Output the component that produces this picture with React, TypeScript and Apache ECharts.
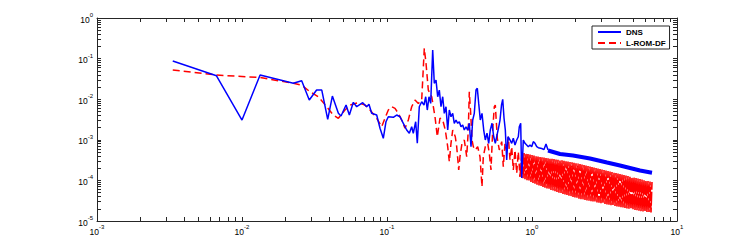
import { useEffect, useRef } from "react";
import * as echarts from "echarts";

// Axis decades (tick labels) for the log-log plot
const xDecades = [0.001, 0.01, 0.1, 1, 10];
const yDecades = [1e-5, 1e-4, 1e-3, 1e-2, 1e-1, 1];

// DNS spectrum (frequency, energy)
const dnsX = [
  0.00333, 0.00667, 0.01, 0.01333, 0.0226, 0.0258, 0.0291, 0.0327, 0.0355, 0.039,
  0.042, 0.0462, 0.0482, 0.0522, 0.055, 0.0586, 0.0618, 0.068, 0.0724, 0.0751,
  0.0784, 0.0849, 0.0895, 0.0943, 0.0984, 0.1021, 0.1105, 0.1166, 0.1229, 0.1296,
  0.1367, 0.1425, 0.148, 0.1518, 0.1577, 0.1618, 0.167, 0.1735, 0.18, 0.1849,
  0.1896, 0.1948, 0.2001, 0.2066, 0.2119, 0.2178, 0.2237, 0.2295, 0.2357, 0.2422,
  0.2484, 0.2552, 0.2622, 0.269, 0.2763, 0.2839, 0.2911, 0.2991, 0.3073, 0.3152,
  0.3238, 0.3327, 0.3413, 0.3506, 0.3602, 0.3695, 0.3796, 0.39, 0.4, 0.411,
  0.4196, 0.429, 0.44, 0.452, 0.4645, 0.4764, 0.4894, 0.5028, 0.5157, 0.53,
  0.5445, 0.5584, 0.5737, 0.5875, 0.6017, 0.6162, 0.6281, 0.6412, 0.6546, 0.6692,
  0.6832, 0.7053, 0.7244, 0.7431, 0.7634, 0.7843, 0.8044, 0.8173, 0.8357, 0.8492,
  0.871, 0.8948, 0.9192, 0.943, 0.969, 0.995, 1.021, 1.049, 1.078, 1.105,
  1.167, 1.21, 1.249, 1.29,
];
const dnsY = [
  0.087, 0.0378, 0.00307, 0.0394, 0.0246, 0.0285, 0.00954, 0.0168, 0.0168, 0.0032,
  0.01197, 0.00449, 0.00385, 0.00719, 0.00408, 0.00837, 0.00653, 0.00818, 0.00653, 0.00748,
  0.00449, 0.00408, 0.00192, 0.00109, 0.00279, 0.0037, 0.00358, 0.00408, 0.0037, 0.00255,
  0.00174, 0.00145, 0.0021, 0.00145, 0.00279, 0.00082, 0.00653, 0.00867, 0.00719, 0.0115,
  0.00541, 0.0115, 0.00787, 0.163, 0.0246, 0.0296, 0.0115, 0.0168, 0.00653, 0.0115,
  0.00449, 0.00653, 0.00174, 0.00541, 0.0037, 0.00449, 0.00255, 0.00307, 0.00255, 0.00279,
  0.0021, 0.00231, 0.00174, 0.0021, 0.00174, 0.00255, 0.000676, 0.00307, 0.00449, 0.0168,
  0.0186, 0.00787, 0.00307, 0.00449, 0.00174, 0.000989, 0.00145, 0.00082, 0.00174, 0.00255,
  0.00119, 0.00082, 0.00131, 0.00195, 0.00307, 0.00719, 0.00994, 0.00344, 0.00174, 0.000318,
  0.00119, 0.000989, 0.00082, 0.00109, 0.000745, 0.000989, 0.00119, 0.0021, 0.00255, 0.000115,
  0.000989, 0.00082, 0.000745, 0.000676, 0.000745, 0.000676, 0.0009, 0.00082, 0.000676, 0.00064,
  0.00061, 0.000575, 0.000788, 0.000561,
];
// DNS high-frequency tail (dense band, drawn thick)
const dnsTailX = [1.29, 1.56, 1.918, 2.512, 3.29, 4.044, 5.556, 6.723];
const dnsTailY = [0.000545, 0.000447, 0.00041, 0.000346, 0.000275, 0.000233, 0.000175, 0.000155];

// L-ROM-DF spectrum
const romX = [
  0.00333, 0.00667, 0.01333, 0.0226, 0.0258, 0.0294, 0.0336, 0.0384, 0.0426, 0.0462,
  0.0513, 0.0556, 0.0634, 0.0705, 0.0764, 0.0849, 0.0919, 0.0969, 0.1021, 0.1078,
  0.1136, 0.1197, 0.1263, 0.1331, 0.1403, 0.148, 0.156, 0.1644, 0.1735, 0.1808,
  0.1858, 0.1927, 0.2034, 0.2143, 0.2223, 0.232, 0.2422, 0.2524, 0.2622, 0.269,
  0.2763, 0.2839, 0.2958, 0.3025, 0.3123, 0.3187, 0.329, 0.3413, 0.3545, 0.3636,
  0.3695, 0.3778, 0.3857, 0.3938, 0.4064, 0.4222, 0.4379, 0.452, 0.4615, 0.4764,
  0.4949, 0.5076, 0.5214, 0.5358, 0.5495, 0.5584, 0.5764, 0.595, 0.6182, 0.634,
  0.6513, 0.6692, 0.6866, 0.7053, 0.7244, 0.7431, 0.7634, 0.7843, 0.8044, 0.8264,
];
const romY = [
  0.0522, 0.0394, 0.0342, 0.0246, 0.0223, 0.0153, 0.0115, 0.00653, 0.00408, 0.00338,
  0.00541, 0.00719, 0.00818, 0.00719, 0.00541, 0.00338, 0.0021, 0.00344, 0.00541, 0.00653,
  0.00592, 0.00449, 0.00307, 0.00192, 0.00307, 0.00653, 0.00954, 0.00787, 0.00954, 0.179,
  0.0766, 0.0168, 0.0115, 0.0037, 0.00119, 0.00344, 0.00307, 0.00174, 0.000676, 0.00029,
  0.00082, 0.00174, 0.00119, 0.000676, 0.00018, 0.000383, 0.00082, 0.000989, 0.000383, 0.00174,
  0.0153, 0.00449, 0.000989, 0.000676, 0.000561, 0.000676, 0.000383, 0.0000696, 0.000383, 0.000676,
  0.00082, 0.000465, 0.00018, 0.00174, 0.00653, 0.00719, 0.00109, 0.000561, 0.0009, 0.000217,
  0.00082, 0.000561, 0.00119, 0.000318, 0.000676, 0.00018, 0.000561, 0.00015, 0.00051, 0.000123,
];
// L-ROM-DF high-frequency oscillation: peaks (at peakX) and troughs (at troughX)
const romPeakX = [
  0.853, 0.881, 0.909, 0.938, 0.969, 1.0, 1.032, 1.066, 1.1, 1.136,
  1.172, 1.21, 1.249, 1.289, 1.331, 1.374, 1.418, 1.464, 1.511, 1.56,
  1.61, 1.662, 1.716, 1.771, 1.829, 1.888, 1.948, 2.011, 2.076, 2.143,
  2.212, 2.284, 2.357, 2.434, 2.512, 2.593, 2.677, 2.763, 2.852, 2.944,
  3.039, 3.137, 3.238, 3.343, 3.451, 3.562, 3.677, 3.795, 3.918, 4.044,
  4.175, 4.309, 4.448, 4.592, 4.74, 4.893, 5.051, 5.214, 5.382, 5.556,
  5.735, 5.92, 6.111, 6.31, 6.513, 6.723,
];
const romPeakY = [
  4.87e-4, 4.73e-4, 4.6e-4, 4.47e-4, 4.35e-4, 4.22e-4, 4.1e-4, 3.99e-4, 3.88e-4, 3.77e-4,
  3.7e-4, 3.64e-4, 3.58e-4, 3.52e-4, 3.46e-4, 3.4e-4, 3.34e-4, 3.29e-4, 3.24e-4, 3.18e-4,
  3.11e-4, 3.04e-4, 2.97e-4, 2.9e-4, 2.84e-4, 2.78e-4, 2.71e-4, 2.65e-4, 2.59e-4, 2.54e-4,
  2.47e-4, 2.4e-4, 2.33e-4, 2.26e-4, 2.2e-4, 2.14e-4, 2.08e-4, 2.02e-4, 1.96e-4, 1.91e-4,
  1.85e-4, 1.8e-4, 1.75e-4, 1.7e-4, 1.65e-4, 1.61e-4, 1.56e-4, 1.52e-4, 1.48e-4, 1.44e-4,
  1.4e-4, 1.36e-4, 1.32e-4, 1.28e-4, 1.25e-4, 1.21e-4, 1.18e-4, 1.15e-4, 1.11e-4, 1.08e-4,
  1.05e-4, 1.02e-4, 9.94e-5, 9.67e-5, 9.4e-5, 9.13e-5,
];
const romTroughX = [
  0.867, 0.895, 0.924, 0.953, 0.984, 1.016, 1.049, 1.083, 1.118, 1.154,
  1.191, 1.229, 1.269, 1.31, 1.352, 1.396, 1.441, 1.487, 1.535, 1.585,
  1.636, 1.689, 1.743, 1.799, 1.858, 1.918, 1.979, 2.043, 2.109, 2.177,
  2.247, 2.32, 2.395, 2.472, 2.552, 2.634, 2.719, 2.807, 2.897, 2.991,
  3.087, 3.187, 3.29, 3.396, 3.506, 3.619, 3.736, 3.856, 3.981, 4.109,
  4.242, 4.378, 4.519, 4.665, 4.816, 4.971, 5.132, 5.297, 5.468, 5.645,
  5.827, 6.015, 6.209, 6.411, 6.617,
];
const romTroughY = [
  1.124e-4, 1.068e-4, 1.014e-4, 9.64e-5, 9.16e-5, 8.7e-5, 8.27e-5, 7.85e-5, 7.47e-5, 7.14e-5,
  6.86e-5, 6.59e-5, 6.34e-5, 6.09e-5, 5.85e-5, 5.62e-5, 5.4e-5, 5.19e-5, 4.99e-5, 4.81e-5,
  4.65e-5, 4.49e-5, 4.35e-5, 4.2e-5, 4.06e-5, 3.92e-5, 3.79e-5, 3.67e-5, 3.54e-5, 3.44e-5,
  3.37e-5, 3.29e-5, 3.22e-5, 3.15e-5, 3.07e-5, 3.01e-5, 2.94e-5, 2.87e-5, 2.81e-5, 2.75e-5,
  2.68e-5, 2.62e-5, 2.56e-5, 2.51e-5, 2.45e-5, 2.39e-5, 2.34e-5, 2.29e-5, 2.24e-5, 2.19e-5,
  2.14e-5, 2.09e-5, 2.04e-5, 2.0e-5, 1.96e-5, 1.91e-5, 1.87e-5, 1.83e-5, 1.78e-5, 1.75e-5,
  1.72e-5, 1.7e-5, 1.68e-5, 1.66e-5, 1.63e-5,
];

const FONT = "'Liberation Sans', Arial, Helvetica, sans-serif";
const AXIS_COLOR = "#262626";

function withMinors(decades: number[]): number[] {
  const out: number[] = [];
  for (let i = 0; i < decades.length; i++) {
    out.push(decades[i]);
    if (i < decades.length - 1) {
      for (let m = 2; m <= 9; m++) out.push(Number((decades[i] * m).toPrecision(3)));
    }
  }
  return out;
}

function zip(xs: number[], ys: number[]): number[][] {
  return xs.map((x, i) => [x, ys[i]]);
}

// interleave peaks and troughs into one oscillating polyline
function interleave(px: number[], py: number[], tx: number[], ty: number[]): number[][] {
  const out: number[][] = [];
  for (let i = 0; i < px.length; i++) {
    out.push([px[i], py[i]]);
    if (i < tx.length) out.push([tx[i], ty[i]]);
  }
  return out;
}

const powLabel = (v: number) => `{b|10}{s|${Math.round(Math.log10(v))}}`;

const richStyle = {
  b: { fontSize: 8.5, fontFamily: FONT, color: "#000", lineHeight: 12, verticalAlign: "bottom" },
  s: { fontSize: 6, fontFamily: FONT, color: "#000", lineHeight: 12, verticalAlign: "top" },
};

function makeAxis(dir: "x" | "y", position: string, decades: number[], showLabel: boolean) {
  return {
    type: "log",
    logBase: 10,
    position,
    min: decades[0],
    max: decades[decades.length - 1],
    axisLine: { show: true, onZero: false, lineStyle: { color: AXIS_COLOR, width: 1 } },
    axisTick: {
      show: true,
      inside: true,
      length: 4,
      customValues: withMinors(decades),
      lineStyle: { color: AXIS_COLOR, width: 1 },
    },
    minorTick: { show: false },
    splitLine: { show: false },
    axisLabel: {
      show: showLabel,
      customValues: decades,
      formatter: powLabel,
      margin: dir === "x" ? 3 : 4,
      rich: richStyle,
    },
  };
}

export default function App() {
  const ref = useRef<HTMLDivElement>(null);
  useEffect(() => {
    if (!ref.current) return;
    const chart = echarts.init(ref.current, undefined, { renderer: "svg" });
    const romMain = zip(romX, romY);
    const romBand = [romMain[romMain.length - 1]].concat(
      interleave(romPeakX, romPeakY, romTroughX, romTroughY)
    );
    chart.setOption({
      animation: false,
      backgroundColor: "#ffffff",
      grid: { left: 97, top: 18, width: 580, height: 203, containLabel: false },
      xAxis: [makeAxis("x", "bottom", xDecades, true), makeAxis("x", "top", xDecades, false)],
      yAxis: [makeAxis("y", "left", yDecades, true), makeAxis("y", "right", yDecades, false)],
      legend: {
        data: ["DNS", "L-ROM-DF"],
        orient: "vertical",
        left: 592,
        top: 26,
        backgroundColor: "#ffffff",
        borderColor: AXIS_COLOR,
        borderWidth: 1,
        borderRadius: 0,
        padding: [1, 4, 1, 5],
        itemGap: 1,
        itemWidth: 23,
        itemHeight: 10,
        selectedMode: false,
        itemStyle: { opacity: 0 },
        textStyle: { fontFamily: FONT, fontSize: 8, fontWeight: "bold", color: "#000", lineHeight: 10 },
        z: 10,
      },
      series: [
        {
          name: "L-ROM-DF",
          type: "line",
          data: romMain,
          symbol: "none",
          silent: true,
          lineStyle: { color: "#ff0000", width: 1.5, type: [7, 4] },
          itemStyle: { color: "#ff0000" },
          z: 2,
        },
        {
          name: "L-ROM-DF band",
          type: "line",
          data: romBand,
          symbol: "none",
          silent: true,
          lineStyle: { color: "#ff0000", width: 1.6, type: [14, 2] },
          itemStyle: { color: "#ff0000" },
          z: 2,
        },
        {
          name: "DNS",
          type: "line",
          data: zip(dnsX, dnsY),
          symbol: "none",
          silent: true,
          lineStyle: { color: "#0000ff", width: 1.5 },
          itemStyle: { color: "#0000ff" },
          z: 3,
        },
        {
          name: "DNS tail",
          type: "line",
          data: zip(dnsTailX, dnsTailY),
          symbol: "none",
          silent: true,
          lineStyle: { color: "#0000ff", width: 4 },
          itemStyle: { color: "#0000ff" },
          z: 3,
        },
      ],
    });
    return () => chart.dispose();
  }, []);
  return (
    <div
      ref={ref}
      style={{ position: "absolute", left: 0, top: 0, width: 747, height: 249, background: "#fff" }}
    />
  );
}
